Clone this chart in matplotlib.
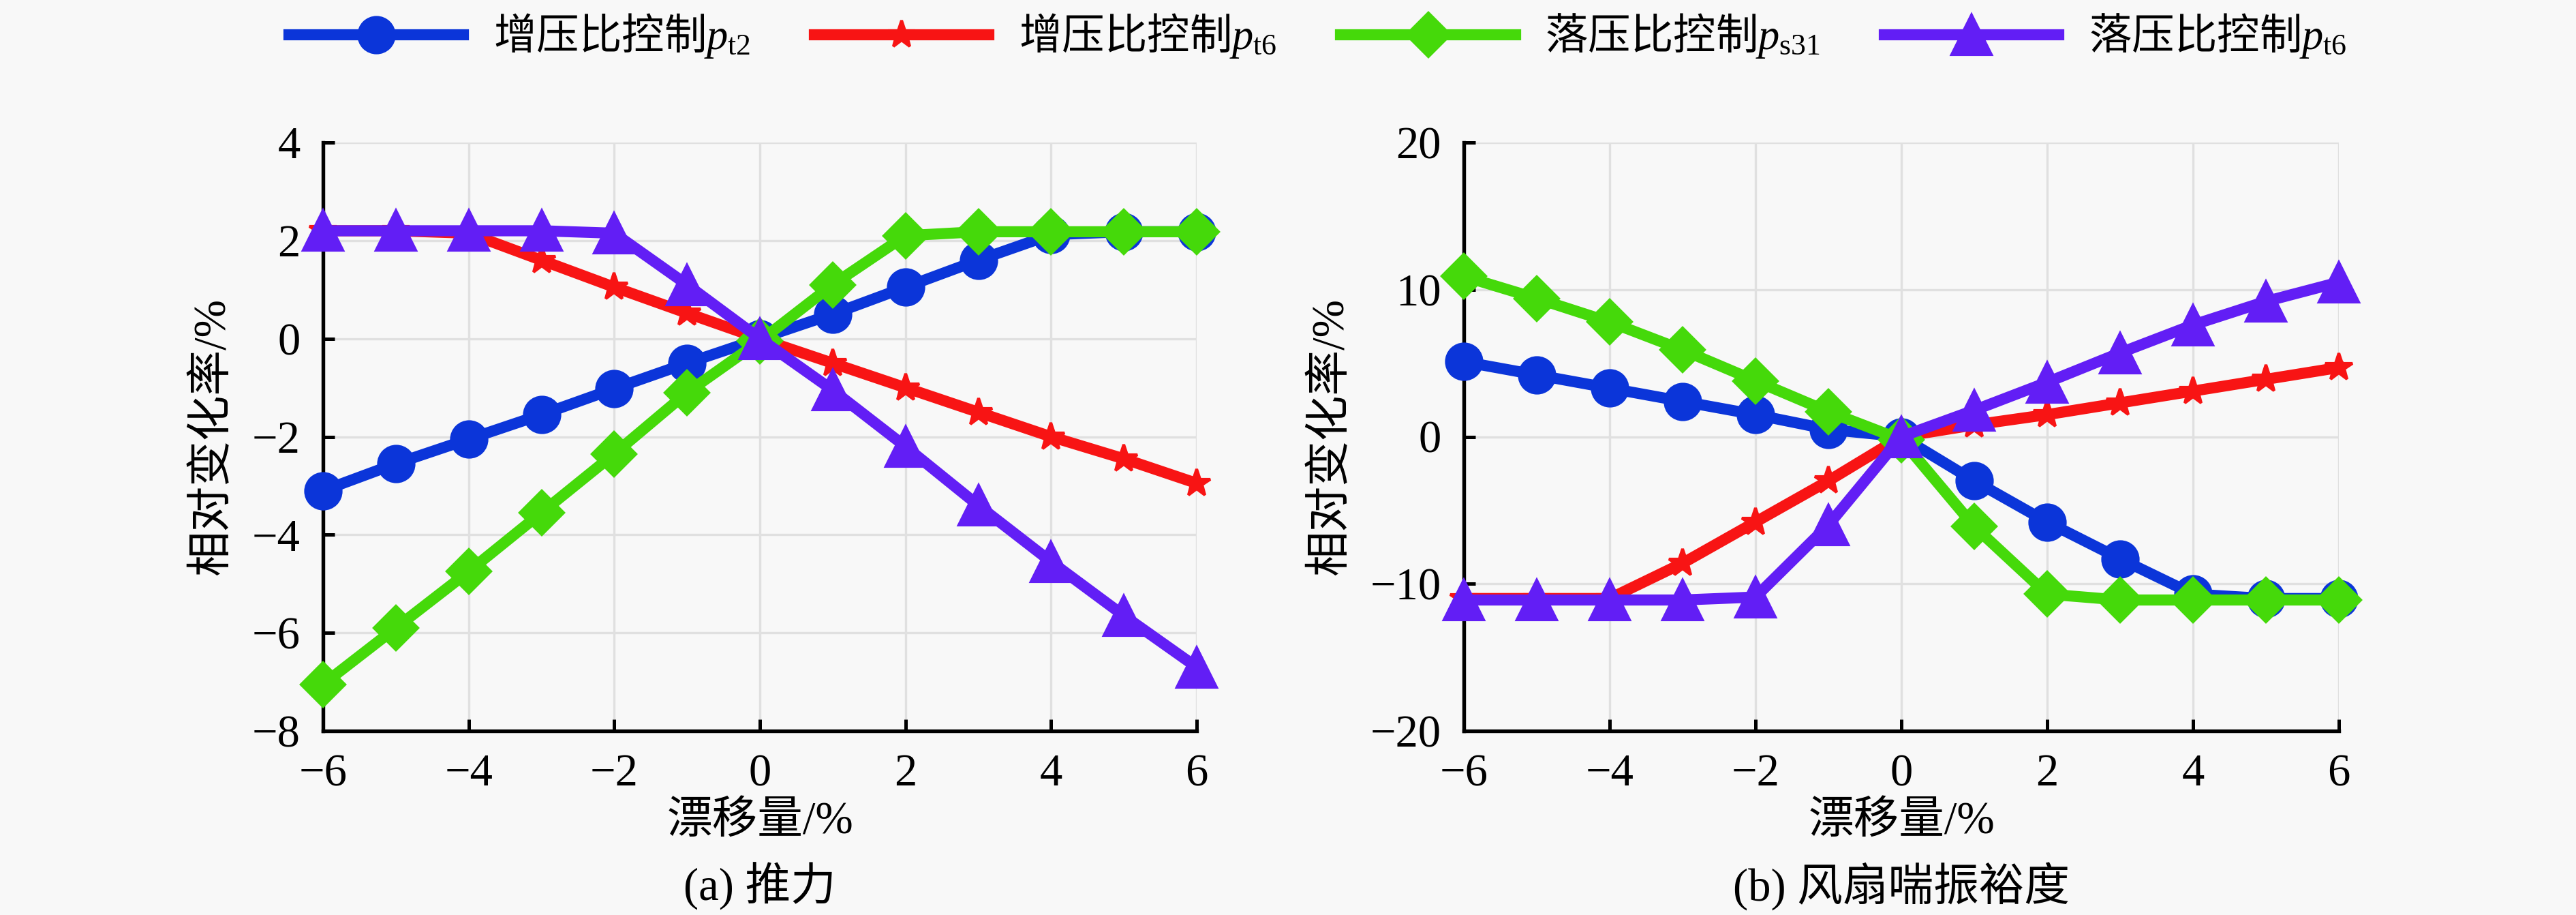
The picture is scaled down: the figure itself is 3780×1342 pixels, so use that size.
import matplotlib
matplotlib.use("Agg")
import matplotlib.pyplot as plt

# ---------------- data ----------------
drift = [-6, -5, -4, -3, -2, -1, 0, 1, 2, 3, 4, 5, 6]

labels = ['增压比控制$p_{\\mathrm{t2}}$', '增压比控制$p_{\\mathrm{t6}}$',
          '落压比控制$p_{\\mathrm{s31}}$', '落压比控制$p_{\\mathrm{t6}}$']

# (a) thrust
thrust_pt2 = [-3.1, -2.55, -2.05, -1.55, -1.02, -0.5, 0.0, 0.5, 1.05, 1.6, 2.12, 2.18, 2.18]
thrust_pt6_inc = [2.2, 2.2, 2.15, 1.6, 1.05, 0.52, 0.0, -0.5, -1.0, -1.5, -2.0, -2.45, -2.95]
thrust_ps31 = [-7.05, -5.9, -4.75, -3.55, -2.35, -1.1, -0.05, 1.1, 2.1, 2.18, 2.18, 2.18, 2.18]
thrust_pt6_dec = [2.2, 2.2, 2.2, 2.2, 2.15, 1.1, 0.0, -1.05, -2.2, -3.4, -4.55, -5.65, -6.7]

# (b) fan surge margin
sm_pt2 = [5.1, 4.2, 3.3, 2.4, 1.5, 0.5, 0.0, -3.0, -5.8, -8.3, -10.7, -11.0, -11.0]
sm_pt6_inc = [-11.0, -11.0, -11.0, -8.6, -5.8, -3.0, 0.0, 0.8, 1.5, 2.3, 3.1, 3.9, 4.7]
sm_ps31 = [10.9, 9.4, 7.8, 5.9, 3.8, 1.7, -0.2, -6.1, -10.7, -11.1, -11.1, -11.1, -11.1]
sm_pt6_dec = [-11.1, -11.1, -11.1, -11.1, -10.9, -6.0, 0.0, 1.8, 3.7, 5.7, 7.6, 9.2, 10.5]

xticks = [-6, -4, -2, 0, 2, 4, 6]
yticks_a = [-8, -6, -4, -2, 0, 2, 4]
yticks_b = [-20, -10, 0, 10, 20]

xlabel = '漂移量/%'
ylabel = '相对变化率/%'
captions = ['(a) 推力', '(b) 风扇喘振裕度']

# ---------------- style ----------------
plt.rcParams['font.family'] = ['Liberation Serif', 'Noto Sans CJK SC', 'DejaVu Sans']
plt.rcParams['mathtext.fontset'] = 'custom'
plt.rcParams['mathtext.rm'] = 'Liberation Serif'
plt.rcParams['mathtext.it'] = 'Liberation Serif:italic'
plt.rcParams['axes.unicode_minus'] = True

BG = '#f8f8f8'
colors = ['#0b35d9', '#f81414', '#45d90a', '#621ef5']
markers = ['o', '*', 'D', '^']
msizes = [12.5, 10, 11, 13.7]
LW = 3.9
FS = 16

fig = plt.figure(figsize=(12.6, 1342 / 300), dpi=300, facecolor=BG)

ax_a = fig.add_axes([474 / 3780, 1 - 1072 / 1342, 1282 / 3780, 863 / 1342])
ax_b = fig.add_axes([2148 / 3780, 1 - 1072 / 1342, 1284 / 3780, 863 / 1342])

series_a = [thrust_pt2, thrust_pt6_inc, thrust_ps31, thrust_pt6_dec]
series_b = [sm_pt2, sm_pt6_inc, sm_ps31, sm_pt6_dec]

handles = []
for ax, series, yt, ylab_x, cap in [
        (ax_a, series_a, yticks_a, -0.126, captions[0]),
        (ax_b, series_b, yticks_b, -0.152, captions[1])]:
    ax.set_facecolor(BG)
    hs = []
    for i, ys in enumerate(series):
        h, = ax.plot(drift, ys, color=colors[i], lw=LW, marker=markers[i],
                     ms=msizes[i], mfc=colors[i], mec=colors[i], mew=1.0,
                     clip_on=False, zorder=3 + i, label=labels[i])
        hs.append(h)
    handles = hs
    ax.set_xlim(-6, 6)
    ax.set_ylim(yt[0], yt[-1])
    ax.set_xticks(xticks)
    ax.set_yticks(yt)
    ax.grid(True, color='#e0e0e0', lw=0.8, zorder=0)
    ax.set_axisbelow(True)
    for s in ['top', 'right']:
        ax.spines[s].set_visible(False)
    for s in ['left', 'bottom']:
        ax.spines[s].set_linewidth(1.3)
        ax.spines[s].set_color('black')
        ax.spines[s].set_zorder(2)
    ax.tick_params(direction='in', length=4, width=1.2, labelsize=FS,
                   pad=8, top=False, right=False, colors='black')
    ax.set_xlabel(xlabel, fontsize=FS)
    ax.xaxis.set_label_coords(0.5, -0.154)
    ax.xaxis.label.set_va('center')
    ax.set_ylabel(ylabel, fontsize=FS)
    ax.yaxis.set_label_coords(ylab_x, 0.5)
    ax.yaxis.label.set_va('center')
    pos = ax.get_position()
    fig.text((pos.x0 + pos.x1) / 2, 1 - 1300 / 1342, cap, fontsize=FS,
             ha='center', va='center')

fig.legend(handles, labels, loc='center', bbox_to_anchor=(0.5116, 1 - 53 / 1342),
           ncol=4, frameon=False, prop={'family': 'Noto Sans CJK SC', 'size': 15},
           handlelength=4.1, handletextpad=0.7, columnspacing=1.5)

fig.savefig('out.png', dpi=300, facecolor=BG)
